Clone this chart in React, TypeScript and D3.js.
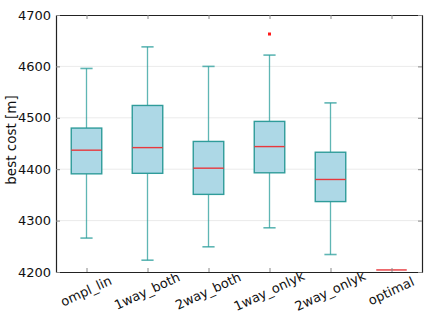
import React, { useEffect, useRef } from "react";
import { select, scaleLinear, axisLeft, axisBottom, axisRight, axisTop } from "d3";

const categories = ["ompl_lin", "1way_both", "2way_both", "1way_onlyk", "2way_onlyk", "optimal"];
const whiskerLow = [4266, 4223, 4249, 4286, 4234, 4204];
const q1 = [4391, 4392, 4351, 4393, 4337, 4204];
const medians = [4437, 4442, 4402, 4444, 4380, 4204];
const q3 = [4480, 4524, 4454, 4493, 4433, 4204];
const whiskerHigh = [4596, 4638, 4600, 4622, 4529, 4204];
const outliers = [[], [], [], [4663], [], []];
const yTicks = [4200, 4300, 4400, 4500, 4600, 4700];

function App() {
  const svgRef = useRef();

  useEffect(() => {
    const width = 432;
    const height = 324;
    const margin = { top: 15, right: 10, bottom: 52, left: 56 };
    const font = "DejaVu Sans";
    const fontSize = 13;
    const svg = select(svgRef.current).attr("width", width).attr("height", height);
    svg.selectAll("*").remove();

    const x = scaleLinear().domain([0.5, 6.5]).range([margin.left, width - margin.right]);
    const y = scaleLinear().domain([4200, 4700]).range([height - margin.bottom, margin.top]);
    const boxW = x(1.25) - x(1);
    const capW = x(1.1) - x(1);

    // grid
    svg
      .append("g")
      .selectAll("line")
      .data(yTicks.slice(1, -1))
      .join("line")
      .attr("x1", x(0.5))
      .attr("x2", x(6.5))
      .attr("y1", d => y(d))
      .attr("y2", d => y(d))
      .attr("stroke", "#ebebeb")
      .attr("stroke-width", 1);

    const data = categories.map((c, i) => ({
      c,
      pos: i + 1,
      lo: whiskerLow[i],
      q1: q1[i],
      med: medians[i],
      q3: q3[i],
      hi: whiskerHigh[i],
      out: outliers[i]
    }));

    const g = svg.append("g");
    const boxes = g.selectAll("g.box").data(data).join("g").attr("class", "box");
    const whiskerColor = "rgba(42,157,155,0.75)";

    boxes
      .filter(d => d.hi > d.lo)
      .each(function (d) {
        const b = select(this);
        const cx = x(d.pos);
        b.append("line").attr("x1", cx).attr("x2", cx).attr("y1", y(d.q3)).attr("y2", y(d.hi))
          .attr("stroke", whiskerColor).attr("stroke-width", 1.3);
        b.append("line").attr("x1", cx).attr("x2", cx).attr("y1", y(d.q1)).attr("y2", y(d.lo))
          .attr("stroke", whiskerColor).attr("stroke-width", 1.3);
        [d.hi, d.lo].forEach(v => {
          b.append("line").attr("x1", cx - capW).attr("x2", cx + capW).attr("y1", y(v)).attr("y2", y(v))
            .attr("stroke", whiskerColor).attr("stroke-width", 1.6);
        });
        b.append("rect")
          .attr("x", cx - boxW)
          .attr("width", boxW * 2)
          .attr("y", y(d.q3))
          .attr("height", y(d.q1) - y(d.q3))
          .attr("fill", "#add8e6")
          .attr("stroke", "#2f9c9a")
          .attr("stroke-width", 1.4);
      });

    boxes
      .append("line")
      .attr("x1", d => x(d.pos) - boxW)
      .attr("x2", d => x(d.pos) + boxW)
      .attr("y1", d => y(d.med))
      .attr("y2", d => y(d.med))
      .attr("stroke", "#e8383d")
      .attr("stroke-width", 1.4);

    boxes.each(function (d) {
      select(this)
        .selectAll("rect.out")
        .data(d.out)
        .join("rect")
        .attr("class", "out")
        .attr("x", x(d.pos) - 1.5)
        .attr("y", v => y(v) - 1.5)
        .attr("width", 3)
        .attr("height", 3)
        .attr("fill", "#ff1a1a");
    });

    // axes with inward ticks
    const xTickVals = categories.map((_, i) => i + 1);
    const axes = [
      svg.append("g").attr("transform", `translate(0,${y(4200)})`)
        .call(axisBottom(x).tickValues(xTickVals).tickSizeInner(-4).tickSizeOuter(0).tickFormat("")),
      svg.append("g").attr("transform", `translate(0,${y(4700)})`)
        .call(axisTop(x).tickValues(xTickVals).tickSizeInner(-4).tickSizeOuter(0).tickFormat("")),
      svg.append("g").attr("transform", `translate(${x(6.5)},0)`)
        .call(axisRight(y).tickValues(yTicks).tickSizeInner(-4).tickSizeOuter(0).tickFormat("")),
      svg.append("g").attr("transform", `translate(${x(0.5)},0)`)
        .call(axisLeft(y).tickValues(yTicks).tickSizeInner(-4).tickSizeOuter(0).tickPadding(5).tickFormat(d => String(d)))
    ];
    axes.forEach(a => {
      a.select(".domain").attr("stroke", "#222").attr("stroke-width", 1.2);
      a.selectAll(".tick line").attr("stroke", "#888");
      a.selectAll("text")
        .attr("font-family", font)
        .attr("font-size", fontSize)
        .attr("fill", "#111");
    });

    // x labels rotated
    svg
      .append("g")
      .selectAll("text")
      .data(categories)
      .join("text")
      .attr("transform", (d, i) => `translate(${x(i + 1)},${y(4200) + 20}) rotate(-25)`)
      .attr("text-anchor", "middle")
      .attr("dominant-baseline", "middle")
      .attr("font-family", font)
      .attr("font-size", fontSize)
      .attr("fill", "#111")
      .text(d => d);

    svg
      .append("text")
      .attr("transform", `translate(12,140) rotate(-90)`)
      .attr("text-anchor", "middle")
      .attr("dominant-baseline", "middle")
      .attr("font-family", font)
      .attr("font-size", 13.5)
      .attr("fill", "#111")
      .text("best cost [m]");
  }, []);

  return (
    <div style={{ position: "absolute", left: 0, top: 0 }}>
      <svg ref={svgRef}></svg>
    </div>
  );
}

export default App;
